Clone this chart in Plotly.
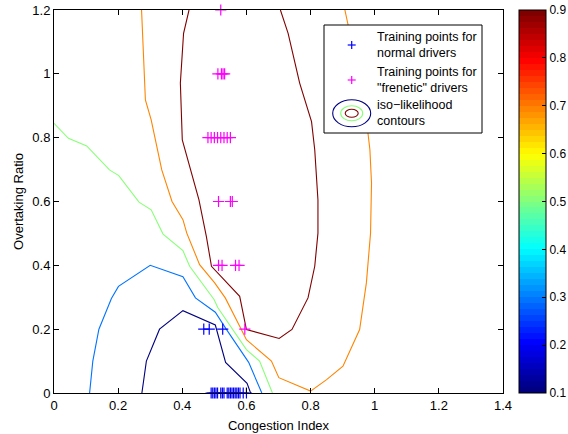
import numpy as np
import plotly.graph_objects as go

# ---- iso-likelihood contour levels and their traced polylines ----
levels = [0.1, 0.3, 0.5, 0.7, 0.9]

c01_x = [0.274, 0.288, 0.329, 0.402, 0.503, 0.517, 0.535, 0.602, 0.613]
c01_y = [0.0, 0.1, 0.2, 0.258, 0.213, 0.165, 0.096, 0.03, 0.0]

c03_x = [0.111, 0.121, 0.14, 0.179, 0.201, 0.3, 0.402, 0.441, 0.503, 0.537, 0.607, 0.648]
c03_y = [0.0, 0.1, 0.2, 0.296, 0.334, 0.4, 0.364, 0.298, 0.253, 0.2, 0.096, 0.0]

c05_x = [0.0, 0.045, 0.102, 0.173, 0.202, 0.265, 0.303, 0.34, 0.402, 0.423, 0.499, 0.511, 0.6, 0.641, 0.681]
c05_y = [0.845, 0.798, 0.774, 0.699, 0.681, 0.598, 0.574, 0.498, 0.446, 0.397, 0.293, 0.267, 0.136, 0.1, 0.0]

c07_x = [0.273, 0.285, 0.303, 0.336, 0.368, 0.402, 0.414, 0.454, 0.501, 0.534, 0.579, 0.6, 0.678,
         0.701, 0.8, 0.85, 0.901, 0.953, 0.974, 0.987, 0.99, 0.985, 0.979, 0.953, 0.917, 0.907]
c07_y = [1.2, 0.918, 0.856, 0.699, 0.6, 0.543, 0.501, 0.402, 0.345, 0.298, 0.209, 0.167, 0.1,
         0.048, 0.006, 0.042, 0.084, 0.199, 0.345, 0.501, 0.658, 0.762, 0.814, 0.981, 1.153, 1.2]

c09_x = [0.421, 0.404, 0.394, 0.4, 0.452, 0.475, 0.491, 0.579, 0.6, 0.702, 0.742, 0.792, 0.813,
         0.823, 0.823, 0.813, 0.803, 0.766, 0.73, 0.706]
c09_y = [1.2, 1.127, 0.971, 0.793, 0.605, 0.491, 0.397, 0.303, 0.199, 0.171, 0.199, 0.298, 0.397,
         0.501, 0.605, 0.762, 0.85, 0.971, 1.127, 1.2]

contour_x = [c01_x, c03_x, c05_x, c07_x, c09_x]
contour_y = [c01_y, c03_y, c05_y, c07_y, c09_y]

# ---- training points ----
normal_x = [0.49, 0.495, 0.5, 0.505, 0.51, 0.52, 0.525, 0.53, 0.54, 0.545, 0.55, 0.555,
            0.56, 0.565, 0.57, 0.575, 0.58, 0.59, 0.6, 0.467, 0.484, 0.526]
normal_y = [0.0] * 19 + [0.2, 0.2, 0.2]

frenetic_x = [0.52,
              0.511, 0.522, 0.527, 0.532,
              0.48, 0.49, 0.5, 0.51, 0.52, 0.53, 0.54, 0.55,
              0.513, 0.55, 0.556,
              0.513, 0.524, 0.566, 0.577,
              0.595]
frenetic_y = [1.2] + [1.0] * 4 + [0.8] * 8 + [0.6] * 3 + [0.4] * 4 + [0.2]

x_ticks = [0, 0.2, 0.4, 0.6, 0.8, 1, 1.2, 1.4]
y_ticks = [0, 0.2, 0.4, 0.6, 0.8, 1, 1.2]
cbar_ticks = [0.1, 0.2, 0.3, 0.4, 0.5, 0.6, 0.7, 0.8, 0.9]
cmin, cmax = 0.1, 0.9

NORMAL_COLOR = "#0000ff"
FRENETIC_COLOR = "#ff00ff"


def jet_rgb(t):
    r = np.clip(1.5 - abs(4 * t - 3), 0, 1)
    g = np.clip(1.5 - abs(4 * t - 2), 0, 1)
    b = np.clip(1.5 - abs(4 * t - 1), 0, 1)
    return int(round(r * 255)), int(round(g * 255)), int(round(b * 255))


def rgb_str(c):
    return "rgb(%d,%d,%d)" % c


# 64-step jet colormap as a stepped plotly colorscale
n_steps = 64
colorscale = []
for i in range(n_steps):
    c = rgb_str(jet_rgb(i / (n_steps - 1)))
    colorscale.append([i / n_steps, c])
    colorscale.append([(i + 1) / n_steps, c])


def level_color(lev):
    t = (lev - cmin) / (cmax - cmin)
    t = min(int(t * n_steps), n_steps - 1) / (n_steps - 1)
    return rgb_str(jet_rgb(t))


FONT = "Liberation Sans, Arial, Helvetica, sans-serif"
L_PX, R_PX, T_PX, B_PX = 54, 65, 10, 41
W, H = 568, 434
PW, PH = W - L_PX - R_PX, H - T_PX - B_PX

fig = go.Figure()

for lev, xs, ys in zip(levels, contour_x, contour_y):
    fig.add_trace(go.Scatter(
        x=xs, y=ys, mode="lines",
        line=dict(color=level_color(lev), width=1.1),
        hoverinfo="skip", showlegend=False,
    ))


def plus_marker(color):
    return dict(symbol="cross-thin-open", size=8, color=color, line=dict(color=color, width=1.2))


fig.add_trace(go.Scatter(x=normal_x, y=normal_y, mode="markers", cliponaxis=False,
                         marker=plus_marker(NORMAL_COLOR), showlegend=False))
fig.add_trace(go.Scatter(x=frenetic_x, y=frenetic_y, mode="markers", cliponaxis=False,
                         marker=plus_marker(FRENETIC_COLOR), showlegend=False))

# colour bar carrier
fig.add_trace(go.Scatter(
    x=[None, None], y=[None, None], mode="markers", showlegend=False, hoverinfo="skip",
    marker=dict(
        color=[cmin, cmax], cmin=cmin, cmax=cmax, colorscale=colorscale, showscale=True,
        colorbar=dict(
            x=(519 - L_PX) / PW, xanchor="left", y=0.5, yanchor="middle",
            len=1.0, lenmode="fraction", thickness=27, thicknessmode="pixels",
            outlinewidth=1, outlinecolor="black",
            tickmode="array", tickvals=cbar_ticks, ticktext=[str(v) for v in cbar_ticks],
            ticks="inside", ticklen=4, tickcolor="black",
            tickfont=dict(family=FONT, size=12, color="black"),
            xpad=0, ypad=0,
        ),
    ),
))


# ---- hand-built legend box (paper coordinates from pixel positions) ----
def px(xp):
    return (xp - L_PX) / PW


def py(yp):
    return (H - B_PX - yp) / PH


shapes = [dict(type="rect", xref="paper", yref="paper", x0=px(324), x1=px(482), y0=py(133), y1=py(25),
               line=dict(color="black", width=1), fillcolor="white", layer="above")]

key_x = 351.7
for key_y, col in [(45, NORMAL_COLOR), (80, FRENETIC_COLOR)]:
    shapes.append(dict(type="line", xref="paper", yref="paper", x0=px(key_x - 4), x1=px(key_x + 4),
                       y0=py(key_y), y1=py(key_y), line=dict(color=col, width=1.2), layer="above"))
    shapes.append(dict(type="line", xref="paper", yref="paper", x0=px(key_x), x1=px(key_x),
                       y0=py(key_y - 4), y1=py(key_y + 4), line=dict(color=col, width=1.2), layer="above"))

ell_cy = 113.3
for (hw, hh), lev in zip([(19, 13.5), (11, 7.5), (6.5, 4)], [0.1, 0.5, 0.9]):
    shapes.append(dict(type="circle", xref="paper", yref="paper",
                       x0=px(key_x - hw), x1=px(key_x + hw), y0=py(ell_cy + hh), y1=py(ell_cy - hh),
                       line=dict(color=level_color(lev), width=1.1), layer="above"))

annotations = []
for txt, yy in [("Training points for<br>normal drivers", 45),
                ("Training points for<br>\"frenetic\" drivers", 80),
                ("iso\u2212likelihood<br>contours", 113.3)]:
    annotations.append(dict(text=txt, xref="paper", yref="paper", x=px(375), y=py(yy),
                            xanchor="left", yanchor="middle", align="left", showarrow=False,
                            font=dict(family=FONT, size=12.5, color="black")))

axis_common = dict(
    showgrid=False, zeroline=False, showline=True, linecolor="black", linewidth=1,
    mirror="ticks", ticks="inside", ticklen=5, tickcolor="black",
    tickfont=dict(family=FONT, size=13, color="black"),
)

fig.update_layout(
    width=W, height=H,
    margin=dict(l=L_PX, r=R_PX, t=T_PX, b=B_PX, autoexpand=False),
    paper_bgcolor="white", plot_bgcolor="white",
    showlegend=False,
    xaxis=dict(range=[0, 1.4], tickmode="array", tickvals=x_ticks,
               ticktext=[("%g" % v) for v in x_ticks],
               title=dict(text="Congestion Index", font=dict(family=FONT, size=13, color="black"),
                          standoff=9),
               **axis_common),
    yaxis=dict(range=[0, 1.2], tickmode="array", tickvals=y_ticks,
               ticktext=[("%g" % v) for v in y_ticks],
               title=dict(text="Overtaking Ratio", font=dict(family=FONT, size=13, color="black"),
                          standoff=5),
               **axis_common),
    shapes=shapes,
    annotations=annotations,
)

fig.write_html("out.html")
